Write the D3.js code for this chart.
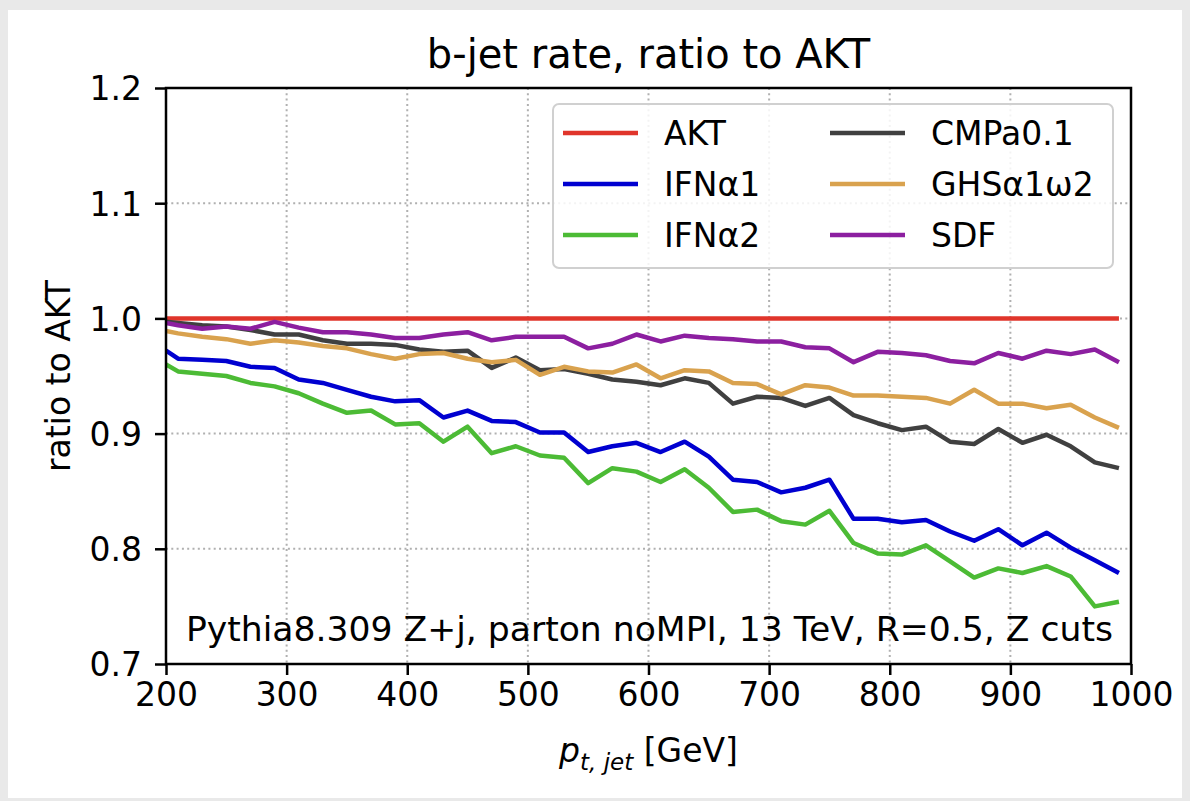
<!DOCTYPE html>
<html>
<head>
<meta charset="utf-8">
<script src="https://cdn.jsdelivr.net/npm/d3@7"></script>
<style>
  html, body { margin: 0; padding: 0; background: #e9e9e9; }
  svg { display: block; font-family: "DejaVu Sans", sans-serif; }
</style>
</head>
<body>
<svg width="1190" height="801"></svg>
<script>
// pt bins (GeV); the first point sits on the axis edge
const PT = [200, 210, 230, 250, 270, 290, 310, 330, 350, 370, 390, 410, 430, 450, 470, 490, 510, 530, 550, 570,
    590, 610, 630, 650, 670, 690, 710, 730, 750, 770, 790, 810, 830, 850, 870, 890, 910, 930, 950, 970, 990];

const AKT = PT.map(() => 1.0);
const IFN_A1 = [0.972, 0.965, 0.964, 0.963, 0.958, 0.957, 0.947, 0.944, 0.938, 0.932, 0.928, 0.929, 0.914, 0.920,
    0.911, 0.910, 0.901, 0.901, 0.884, 0.889, 0.892, 0.884, 0.893, 0.880, 0.860, 0.858, 0.849, 0.853, 0.860, 0.826,
    0.826, 0.823, 0.825, 0.815, 0.807, 0.817, 0.803, 0.814, 0.801, 0.790, 0.779];
const IFN_A2 = [0.960, 0.954, 0.952, 0.950, 0.944, 0.941, 0.935, 0.926, 0.918, 0.920, 0.908, 0.909, 0.893, 0.906,
    0.883, 0.889, 0.881, 0.879, 0.857, 0.870, 0.867, 0.858, 0.869, 0.853, 0.832, 0.834, 0.824, 0.821, 0.833, 0.805,
    0.796, 0.795, 0.803, 0.789, 0.775, 0.783, 0.779, 0.785, 0.776, 0.750, 0.754];
const CMP = [0.997, 0.996, 0.994, 0.993, 0.990, 0.986, 0.986, 0.981, 0.978, 0.978, 0.977, 0.973, 0.971, 0.972,
    0.957, 0.966, 0.955, 0.956, 0.952, 0.947, 0.945, 0.942, 0.948, 0.944, 0.926, 0.932, 0.931, 0.924, 0.931, 0.916,
    0.909, 0.903, 0.906, 0.893, 0.891, 0.904, 0.892, 0.899, 0.889, 0.875, 0.870];
const GHS = [0.989, 0.987, 0.984, 0.982, 0.978, 0.981, 0.979, 0.976, 0.974, 0.969, 0.965, 0.969, 0.970, 0.965,
    0.962, 0.964, 0.951, 0.958, 0.954, 0.953, 0.960, 0.948, 0.955, 0.954, 0.944, 0.943, 0.934, 0.942, 0.940, 0.933,
    0.933, 0.932, 0.931, 0.926, 0.938, 0.926, 0.926, 0.922, 0.925, 0.914, 0.905];
const SDF = [0.996, 0.994, 0.991, 0.993, 0.991, 0.997, 0.992, 0.988, 0.988, 0.986, 0.983, 0.983, 0.986, 0.988,
    0.981, 0.984, 0.984, 0.984, 0.974, 0.978, 0.986, 0.980, 0.985, 0.983, 0.982, 0.980, 0.980, 0.975, 0.974, 0.962,
    0.971, 0.970, 0.968, 0.963, 0.961, 0.970, 0.965, 0.972, 0.969, 0.973, 0.962];

const LABELS = ["AKT", "IFNα1", "IFNα2", "CMPa0.1", "GHSα1ω2", "SDF"];
const COLORS = ["#e0352b", "#0000d0", "#4cbb35", "#404040", "#d9a24e", "#8c1fa0"];
const VALUES = [AKT, IFN_A1, IFN_A2, CMP, GHS, SDF];

const X_TICKS = [200, 300, 400, 500, 600, 700, 800, 900, 1000];
const Y_TICKS = [0.7, 0.8, 0.9, 1.0, 1.1, 1.2];

const LEFT = 166, RIGHT = 1131, TOP = 88, BOTTOM = 664,
    FONT = "33px";

const svg = d3.select("svg");

svg.append("rect")
    .attr("x", 8).attr("y", 10)
    .attr("width", 1174).attr("height", 788)
    .attr("fill", "#fff");

const x = d3.scaleLinear().domain([200, 1000]).range([LEFT, RIGHT]),
    y = d3.scaleLinear().domain([0.7, 1.2]).range([BOTTOM, TOP]);

// grid
const grid = svg.append("g")
    .attr("stroke", "#b0b0b0")
    .attr("stroke-width", 2)
    .attr("stroke-dasharray", "2,3.3");
grid.selectAll(".gx")
    .data(X_TICKS)
    .enter()
    .append("line")
    .attr("x1", (d) => x(d)).attr("x2", (d) => x(d))
    .attr("y1", TOP).attr("y2", BOTTOM);
grid.selectAll(".gy")
    .data(Y_TICKS)
    .enter()
    .append("line")
    .attr("y1", (d) => y(d)).attr("y2", (d) => y(d))
    .attr("x1", LEFT).attr("x2", RIGHT);

svg.append("clipPath")
    .attr("id", "plot")
    .append("rect")
    .attr("x", LEFT).attr("y", TOP)
    .attr("width", RIGHT - LEFT).attr("height", BOTTOM - TOP);

const line = d3.line()
    .x((d, i) => x(PT[i]))
    .y((d) => y(d));

svg.append("g")
    .attr("clip-path", "url(#plot)")
    .selectAll("path")
    .data(VALUES)
    .enter()
    .append("path")
    .attr("d", line)
    .attr("fill", "none")
    .attr("stroke", (d, i) => COLORS[i])
    .attr("stroke-width", 4.5)
    .attr("stroke-linejoin", "round");

// axes
const xAxis = svg.append("g")
    .attr("transform", `translate(0,${BOTTOM})`)
    .call(d3.axisBottom(x).tickValues(X_TICKS).tickSize(11).tickPadding(6).tickFormat(d3.format("d")));
const yAxis = svg.append("g")
    .attr("transform", `translate(${LEFT},0)`)
    .call(d3.axisLeft(y).tickValues(Y_TICKS).tickSize(11).tickPadding(13).tickFormat(d3.format(".1f")));

for(const ax of [xAxis, yAxis]) {
    ax.select(".domain").remove();
    ax.selectAll(".tick line").attr("stroke", "#000").attr("stroke-width", 2.5);
    ax.selectAll(".tick text")
        .attr("fill", "#000")
        .style("font-size", FONT)
        .style("font-family", "DejaVu Sans");
}
yAxis.selectAll(".tick text").attr("dy", "0.36em");
xAxis.selectAll(".tick text").attr("dy", "0.76em");

svg.append("rect")
    .attr("x", LEFT).attr("y", TOP)
    .attr("width", RIGHT - LEFT).attr("height", BOTTOM - TOP)
    .attr("fill", "none")
    .attr("stroke", "#000")
    .attr("stroke-width", 2.5);

// legend
const legend = svg.append("g");
legend.append("rect")
    .attr("x", 553).attr("y", 104)
    .attr("width", 560).attr("height", 164)
    .attr("rx", 6)
    .attr("fill", "#fff")
    .attr("fill-opacity", 0.85)
    .attr("stroke", "#d0d0d0")
    .attr("stroke-width", 2);

const item = legend.selectAll(".item")
    .data(LABELS)
    .enter()
    .append("g")
    .attr("transform", (d, i) => `translate(${i < 3 ? 563 : 830},${133 + (i % 3) * 51})`);
item.append("line")
    .attr("x1", 0).attr("x2", 75)
    .attr("stroke", (d, i) => COLORS[i])
    .attr("stroke-width", 4.5);
item.append("text")
    .attr("x", 101)
    .attr("dy", "0.36em")
    .style("font-size", FONT)
    .text((d) => d);

// title, labels, annotation
svg.append("text")
    .attr("x", (LEFT + RIGHT) / 2).attr("y", 68)
    .attr("text-anchor", "middle")
    .style("font-size", "40px")
    .text("b-jet rate, ratio to AKT");

svg.append("text")
    .attr("transform", `translate(70,${(TOP + BOTTOM) / 2}) rotate(-90)`)
    .attr("text-anchor", "middle")
    .style("font-size", FONT)
    .text("ratio to AKT");

const xl = svg.append("text")
    .attr("x", (LEFT + RIGHT) / 2).attr("y", 762)
    .attr("text-anchor", "middle")
    .style("font-size", FONT);
xl.append("tspan").style("font-style", "italic").text("p");
xl.append("tspan").attr("dy", 8).style("font-style", "italic").style("font-size", "23px").text("t, jet");
xl.append("tspan").attr("dy", -8).text(" [GeV]");

svg.append("text")
    .attr("x", 1113).attr("y", 641)
    .attr("text-anchor", "end")
    .style("font-size", "34.6px")
    .text("Pythia8.309 Z+j, parton noMPI, 13 TeV, R=0.5, Z cuts");
</script>
</body>
</html>
